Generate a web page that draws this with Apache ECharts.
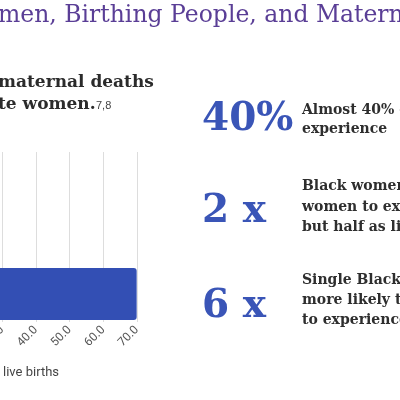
<!DOCTYPE html>
<html><head><meta charset="utf-8">
<script src="https://cdn.jsdelivr.net/npm/echarts@6/dist/echarts.min.js"></script>
<style>html,body{margin:0;padding:0;background:#fff;overflow:hidden}#c{position:absolute;left:-200px;top:0;width:600px;height:400px}</style>
</head><body><div id="c"></div>
<script>
const categories = ['Black', 'White'];
const deathRates = [69.9, 26.6];
const tickValues = [0, 10, 20, 30, 40, 50, 60, 70];
const stats = ['40%', '2 x', '6 x'];
const statTexts = [
  ['Almost 40% of Black mothers', 'experience'],
  ['Black women are as likely as white', 'women to experience', 'but half as likely'],
  ['Single Black women are', 'more likely than white', 'to experience']
];
const serif = '"DejaVu Serif", "Liberation Serif", serif';
const OX = 200;
const chart = echarts.init(document.getElementById('c'));
const statY = [120, 212, 307];
const textY = [[112, 131], [188, 209, 229], [282, 302, 322]];
const graphics = [
  {type:'text', left:OX-2, top:4, style:{text:'men, Birthing People, and Maternal Health', font:'23.5px '+serif, fill:'#5a3e96'}},
  {type:'text', left:OX-2, top:74, style:{text:'maternal deaths', font:'bold 17px '+serif, fill:'#2b2b2b'}},
  {type:'text', left:OX-2, top:96, style:{text:'te women.', font:'bold 17px '+serif, fill:'#2b2b2b'}},
  {type:'text', left:OX+96, top:100, style:{text:'7,8', font:'11px sans-serif', fill:'#444'}},
  {type:'text', x:OX+59, y:366, style:{text:'Deaths per 100,000 live births', align:'right', font:'13px Roboto, sans-serif', fill:'#444'}}
];
stats.forEach((s, i) => {
  graphics.push({type:'text', left:OX+202, top:statY[i]-20, style:{text:s, font:'bold 39px '+serif, fill:'#3a55b7'}});
  statTexts[i].forEach((t, j) => {
    graphics.push({type:'text', left:OX+302, top:textY[i][j]-9, style:{text:t, font:'bold 14px '+serif, fill:'#2e2e2e'}});
  });
});
const xCommon = {type:'value', min:0, max:70, interval:10, axisLine:{show:false}, axisTick:{show:false}};
chart.setOption({
  animation:false,
  grid:[{left:OX-99, width:236, top:152, bottom:78}, {left:OX-99, width:236, top:210, bottom:78}],
  xAxis:[
    Object.assign({gridIndex:0,
      axisLabel:{formatter:v=>v.toFixed(1), rotate:45, color:'#555', fontSize:12, fontFamily:'Roboto, sans-serif', margin:6},
      splitLine:{lineStyle:{color:'#ddd'}}}, xCommon),
    Object.assign({gridIndex:1, axisLabel:{show:false}, splitLine:{show:false}}, xCommon)
  ],
  yAxis:[
    {gridIndex:0, type:'value', show:false},
    {gridIndex:1, type:'category', data:categories, axisLine:{show:false}, axisTick:{show:false}, axisLabel:{show:false}}
  ],
  series:[{type:'bar', xAxisIndex:1, yAxisIndex:1, data:deathRates, barWidth:52, itemStyle:{color:'#334fb4', borderRadius:3}}],
  graphic:graphics
});
</script></body></html>
